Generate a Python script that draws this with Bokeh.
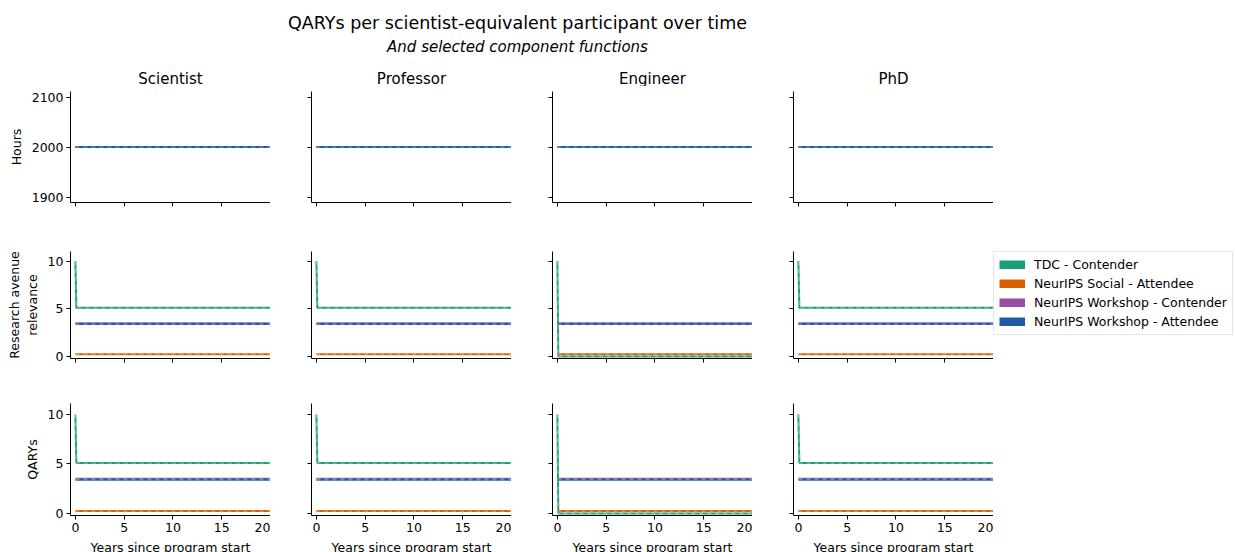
from bokeh.plotting import figure
from bokeh.layouts import column, row
from bokeh.models import (Range1d, Label, Legend, LegendItem, FixedTicker,
                          CustomJSTickFormatter, ColumnDataSource)
from bokeh.embed import file_html
from bokeh.resources import INLINE

# ---------------- data ----------------
years = [0, 0.1, 20]
roles = ["Scientist", "Professor", "Engineer", "PhD"]
series_names = ["TDC - Contender", "NeurIPS Social - Attendee",
                "NeurIPS Workshop - Contender", "NeurIPS Workshop - Attendee"]
colors = ["#1b9e77", "#d95f02", "#984ea3", "#1f5aa6"]

hours = {
    "Scientist": [[2000, 2000, 2000]] * 4,
    "Professor": [[2000, 2000, 2000]] * 4,
    "Engineer":  [[2000, 2000, 2000]] * 4,
    "PhD":       [[2000, 2000, 2000]] * 4,
}
relevance = {
    "Scientist": [[10, 5.1, 5.1], [0.25, 0.25, 0.25], [3.5, 3.5, 3.5], [3.4, 3.4, 3.4]],
    "Professor": [[10, 5.1, 5.1], [0.25, 0.25, 0.25], [3.5, 3.5, 3.5], [3.4, 3.4, 3.4]],
    "Engineer":  [[10, 0.0, 0.0], [0.25, 0.25, 0.25], [3.5, 3.5, 3.5], [3.4, 3.4, 3.4]],
    "PhD":       [[10, 5.1, 5.1], [0.25, 0.25, 0.25], [3.5, 3.5, 3.5], [3.4, 3.4, 3.4]],
}
qarys = {
    "Scientist": [[10, 5.1, 5.1], [0.25, 0.25, 0.25], [3.5, 3.5, 3.5], [3.4, 3.4, 3.4]],
    "Professor": [[10, 5.1, 5.1], [0.25, 0.25, 0.25], [3.5, 3.5, 3.5], [3.4, 3.4, 3.4]],
    "Engineer":  [[10, 0.0, 0.0], [0.25, 0.25, 0.25], [3.5, 3.5, 3.5], [3.4, 3.4, 3.4]],
    "PhD":       [[10, 5.1, 5.1], [0.25, 0.25, 0.25], [3.5, 3.5, 3.5], [3.4, 3.4, 3.4]],
}
x_ticks = [0, 5, 10, 15, 20]
hours_ticks = [1900, 2000, 2100]
value_ticks = [0, 5, 10]

row_specs = [
    ("Hours", hours, (1889, 2111), hours_ticks),
    ("Research avenue\nrelevance", relevance, (-0.2, 11.0), value_ticks),
    ("QARYs", qarys, (-0.2, 11.1), value_ticks),
]

FONT = "DejaVu Sans"
TICK = "12.5px"
TOTAL_W = 1235

# ---------------- header ----------------
HEAD_H = 86
header = figure(width=TOTAL_W, height=HEAD_H, x_range=Range1d(0, TOTAL_W),
                y_range=Range1d(0, HEAD_H),
                output_backend="svg", toolbar_location=None, min_border=0,
                outline_line_color=None)
header.axis.visible = False
header.grid.visible = False
header.add_layout(Label(x=517, y=HEAD_H - 22, text="QARYs per scientist-equivalent participant over time",
                        text_font=FONT, text_font_size="17.5px", text_align="center",
                        text_baseline="middle", text_color="#000000"))
header.add_layout(Label(x=517, y=HEAD_H - 46, text="And selected component functions",
                        text_font=FONT, text_font_size="15px", text_font_style="italic",
                        text_align="center", text_baseline="middle", text_color="#000000"))
col_centers = [170, 411, 652, 893]
for name, cx in zip(roles, col_centers):
    header.add_layout(Label(x=cx, y=HEAD_H - 78, text=name, text_font=FONT, text_font_size="15px",
                            text_align="center", text_baseline="middle", text_color="#000000"))

# ---------------- grid ----------------
row_dims = [  # (top border, bottom border)
    (5, 30),
    (15, 30),
    (15, 50),
]
frame_h = [111, 111, 112]
blank = CustomJSTickFormatter(code="return ''")

rows = []
for r, (ylabel, data, yr, yticks) in enumerate(row_specs):
    figs = []
    tb, bb = row_dims[r]
    fig_h = tb + frame_h[r] + bb
    for c, role in enumerate(roles):
        left = 70 if c == 0 else 41
        p = figure(width=left + 200, height=fig_h,
                   x_range=Range1d(-0.5, 20), y_range=Range1d(*yr),
                   output_backend="svg", toolbar_location=None,
                   min_border_left=left, min_border_right=0,
                   min_border_top=tb, min_border_bottom=bb,
                   outline_line_color=None, background_fill_color="white")
        p.grid.visible = False
        for ax in (p.xaxis[0], p.yaxis[0]):
            ax.axis_line_color = "black"
            ax.axis_line_width = 1
            ax.major_tick_line_color = "black"
            ax.major_tick_in = 0
            ax.major_tick_out = 4
            ax.minor_tick_line_color = None
            ax.major_label_text_font = FONT
            ax.major_label_text_font_size = TICK
            ax.major_label_text_color = "black"
            ax.major_label_standoff = 3
            ax.axis_label_text_font = FONT
            ax.axis_label_text_font_size = TICK
            ax.axis_label_text_font_style = "normal"
            ax.axis_label_text_color = "black"
            ax.axis_label_standoff = 5
        p.xaxis.ticker = FixedTicker(ticks=x_ticks)
        p.yaxis.ticker = FixedTicker(ticks=yticks)
        if r < 2:
            p.xaxis.formatter = blank
        else:
            p.xaxis.axis_label = "Years since program start"
        if c > 0:
            p.yaxis.formatter = blank
        else:
            p.yaxis.axis_label = ylabel

        for k in range(4):
            src = ColumnDataSource(dict(x=years, y=data[role][k]))
            p.line("x", "y", source=src, line_color=colors[k], line_width=2)
            p.line("x", "y", source=src, line_color="white", line_alpha=0.45,
                   line_width=1, line_dash="4 4")
        figs.append(p)

    if r == 1:
        # legend panel to the right of the middle row
        lf = figure(width=TOTAL_W - 993, height=fig_h, x_range=Range1d(-0.5, 20),
                    y_range=Range1d(0, 1), output_backend="svg", toolbar_location=None,
                    min_border_left=0, min_border_right=0, min_border_top=19,
                    min_border_bottom=0, outline_line_color=None)
        lf.axis.visible = False
        lf.grid.visible = False
        items = []
        for k, (name, col) in enumerate(zip(series_names, colors)):
            # legend swatch renderers (series data lies outside this panel's view)
            rr = lf.line(years, hours["PhD"][k], line_color=col, line_width=9,
                         line_cap="butt")
            items.append(LegendItem(label=name, renderers=[rr]))
        legend = Legend(items=items, location="top_left", label_text_font=FONT,
                        label_text_font_size=TICK, label_text_color="black",
                        glyph_width=26, glyph_height=9, label_height=15, spacing=4,
                        label_standoff=9, padding=5, margin=0,
                        border_line_color="#cccccc", border_line_width=1,
                        background_fill_alpha=0.9)
        lf.add_layout(legend, "center")
        figs.append(lf)
    rows.append(row(*figs))

layout = column(header, *rows)
open("out.html", "w").write(file_html(layout, INLINE))
